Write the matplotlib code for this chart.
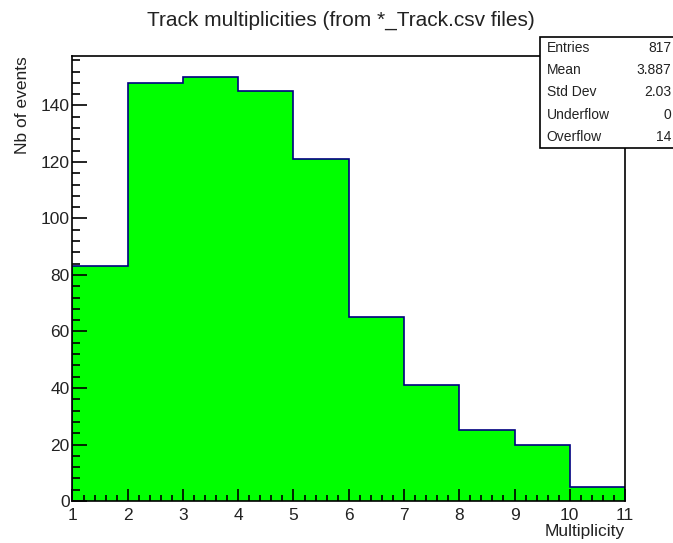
import numpy as np
import matplotlib
matplotlib.use("Agg")
import matplotlib.pyplot as plt
from matplotlib.ticker import MultipleLocator

plt.rcParams["font.family"] = ["Liberation Sans", "DejaVu Sans"]

# histogram contents
bin_edges = [1, 2, 3, 4, 5, 6, 7, 8, 9, 10, 11]
counts = [83, 148, 150, 145, 121, 65, 41, 25, 20, 5]

stat_names = ["Entries", "Mean", "Std Dev", "Underflow", "Overflow"]
stat_values = ["817", "3.887", "2.03", "0", "14"]

fig = plt.figure(figsize=(6.73, 5.43), dpi=100)
ax = fig.add_axes([0.1077, 0.0773, 0.821, 0.8196])

ax.stairs(counts, bin_edges, fill=True, color="#00ff00", zorder=1)
ax.stairs(counts, bin_edges, color="#000080", lw=1.2, zorder=2)

# ROOT style: 5% headroom above the maximum
ax.set_xlim(1, 11)
ax.set_ylim(0, max(counts) * 1.05)
ax.xaxis.set_major_locator(MultipleLocator(1))
ax.xaxis.set_minor_locator(MultipleLocator(0.2))
ax.yaxis.set_major_locator(MultipleLocator(20))
ax.yaxis.set_minor_locator(MultipleLocator(4))
ax.tick_params(which="both", direction="in", top=False, right=False,
               labelsize=12.5, width=1.2, labelcolor="#222222")
ax.tick_params(axis="x", which="major", length=8.6, pad=5)
ax.tick_params(axis="x", which="minor", length=4.3)
ax.tick_params(axis="y", which="major", length=10.8, pad=2)
ax.tick_params(axis="y", which="minor", length=5.8)
for s in ax.spines.values():
    s.set_linewidth(1.2)
    s.set_zorder(3)

ax.set_xlabel("Multiplicity", fontsize=12.5, loc="right", labelpad=1, color="#222222")
ax.set_ylabel("Nb of events", fontsize=12.5, loc="top", labelpad=8, color="#222222")
fig.suptitle("Track multiplicities (from *_Track.csv files)", fontsize=15, y=0.98,
             x=0.506, color="#222222")

# stats box
bx0, by0, bw, bh = 540 / 673, 1 - 148 / 543, 140 / 673, 111 / 543
fig.patches.append(plt.Rectangle((bx0, by0), bw, bh, transform=fig.transFigure,
                                 facecolor="white", edgecolor="black", lw=1.2,
                                 zorder=5))
for i, (name, val) in enumerate(zip(stat_names, stat_values)):
    yy = by0 + bh - (i + 0.5) * bh / 5
    fig.text(bx0 + 0.01, yy, name, fontsize=10, va="center", ha="left", zorder=6,
             color="#222222")
    fig.text(1.0 - 0.002, yy, val, fontsize=10, va="center", ha="right", zorder=6,
             color="#222222")

fig.savefig("out.png", dpi=100)
